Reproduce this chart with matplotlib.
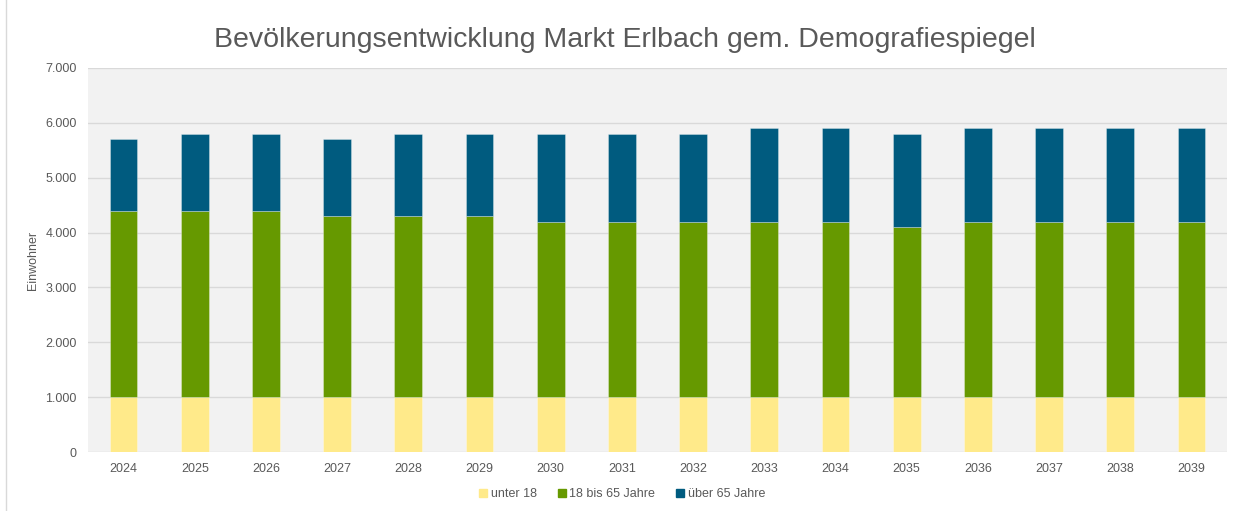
import numpy as np
import matplotlib.pyplot as plt
from matplotlib.ticker import FuncFormatter
from matplotlib.lines import Line2D

plt.rcParams['font.family'] = ['Liberation Sans', 'DejaVu Sans']

years = ['2024', '2025', '2026', '2027', '2028', '2029', '2030', '2031',
         '2032', '2033', '2034', '2035', '2036', '2037', '2038', '2039']
unter_18 = [1000] * 16
mitte = [3400, 3400, 3400, 3300, 3300, 3300, 3200, 3200,
         3200, 3200, 3200, 3100, 3200, 3200, 3200, 3200]
ueber_65 = [1300, 1400, 1400, 1400, 1500, 1500, 1600, 1600,
            1600, 1700, 1700, 1700, 1700, 1700, 1700, 1700]

labels = ['unter 18', '18 bis 65 Jahre', 'über 65 Jahre']
colors = ['#FFEA8A', '#669900', '#005B7F']
txt = '#595959'

fig = plt.figure(figsize=(12.42, 5.11), dpi=100)
ax = fig.add_axes([88 / 1242, (511 - 452) / 511, 1139 / 1242, 384 / 511])
ax.set_facecolor('#F2F2F2')

x = np.arange(len(years))
bottom = np.zeros(len(years))
for vals, c, lab in zip([unter_18, mitte, ueber_65], colors, labels):
    ax.bar(x, vals, 0.39, bottom=bottom, color=c, label=lab,
           edgecolor=(1, 1, 1, 0.35), linewidth=0.6, zorder=3)
    bottom += np.array(vals)

ax.set_xlim(-0.5, len(years) - 0.5)
ax.set_ylim(0, 7000)
ax.set_yticks(range(0, 7001, 1000))
ax.yaxis.set_major_formatter(FuncFormatter(lambda v, p: f'{int(v):,}'.replace(',', '.')))
ax.set_xticks(x)
ax.set_xticklabels(years)
ax.grid(axis='y', color='#D9D9D9', linewidth=1, zorder=0)
for s in ax.spines.values():
    s.set_visible(False)
ax.tick_params(length=0, colors=txt, labelsize=9, pad=8)
ax.tick_params(axis='y', pad=8)
ax.set_ylabel('Einwohner', color=txt, fontsize=9, labelpad=5)

fig.suptitle('Bevölkerungsentwicklung Markt Erlbach gem. Demografiespiegel',
             x=0.503, y=0.947, fontsize=20.5, color=txt)

handles = [Line2D([], [], marker='s', linestyle='', markersize=6, color=c) for c in colors]
fig.legend(handles, labels, loc='center', bbox_to_anchor=(0.5, 1 - 494 / 511), ncol=3,
           frameon=False, fontsize=9, labelcolor=txt, handletextpad=0.1,
           columnspacing=1.5, handlelength=1)

fig.add_artist(Line2D([6 / 1242, 6 / 1242], [0, 1], color='#D9D9D9', linewidth=1))

fig.savefig('out.png', dpi=100)
